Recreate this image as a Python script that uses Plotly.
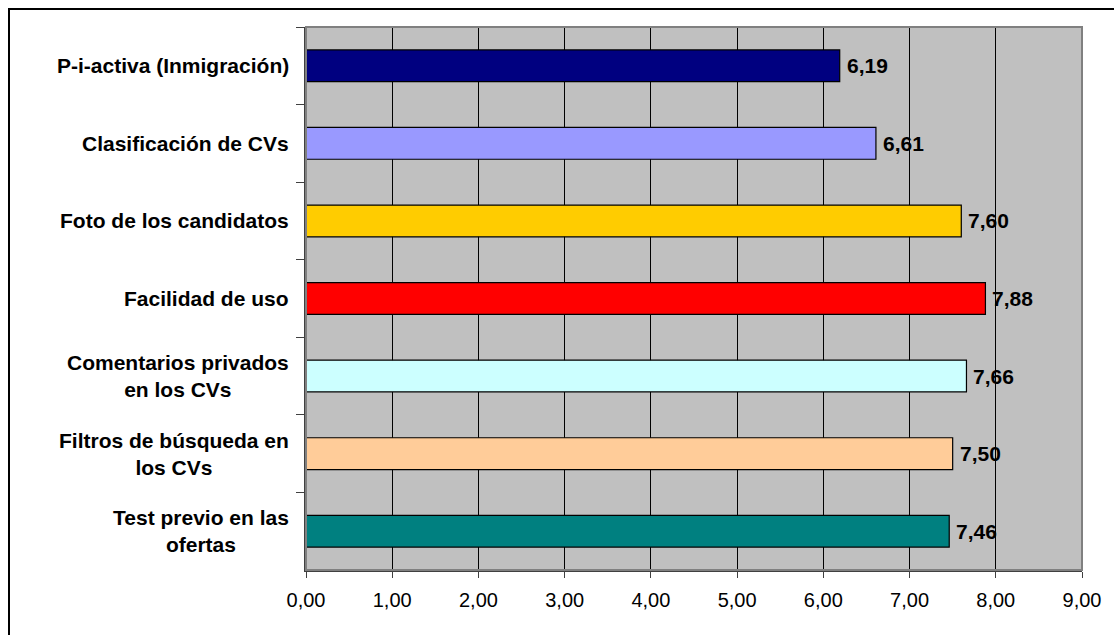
import plotly.graph_objects as go

# data, top to bottom as in the chart
categories = [
    "P-i-activa (Inmigración)",
    "Clasificación de CVs",
    "Foto de los candidatos",
    "Facilidad de uso",
    "Comentarios privados<br>en los CVs",
    "Filtros de búsqueda en<br>los CVs",
    "Test previo en las<br>ofertas",
]
values = [6.19, 6.61, 7.60, 7.88, 7.66, 7.50, 7.46]
colors = ["#000080", "#9999FF", "#FFCC00", "#FF0000", "#CCFFFF", "#FFCC99", "#008080"]
x_ticks = [0, 1, 2, 3, 4, 5, 6, 7, 8, 9]

FONT = "Liberation Sans, Arial, sans-serif"

fig = go.Figure()

fig.add_trace(go.Bar(
    x=values,
    y=categories,
    orientation='h',
    marker=dict(color=colors, line=dict(color='black', width=1.2)),
    hoverinfo='x+y',
))

# category labels (centered lines, right aligned block)
for cat in categories:
    fig.add_annotation(
        x=0, xref='paper', y=cat, yref='y',
        text=f"<b>{cat}</b>", showarrow=False,
        xanchor='right', align='center', xshift=-15,
        font=dict(family=FONT, size=21, color='black'),
    )

# value labels
for cat, v in zip(categories, values):
    fig.add_annotation(
        x=v, y=cat, text=f"<b>{v:.2f}</b>".replace('.', ','),
        showarrow=False, xanchor='left', xshift=5,
        font=dict(family=FONT, size=21, color='black'),
    )

# outer chart border (only top/left visible in the frame)
fig.add_shape(type='rect', xref='paper', yref='paper',
              x0=(9 - 306) / 776, x1=1.2, y0=-0.4, y1=(570 - 9) / 543,
              line=dict(color='black', width=2))
# plot area border
fig.add_shape(type='rect', xref='paper', yref='paper',
              x0=0, x1=1, y0=0, y1=1,
              line=dict(color='#808080', width=2))

fig.update_layout(
    width=1114, height=635,
    margin=dict(l=306, r=32, t=27, b=65),
    paper_bgcolor='white',
    plot_bgcolor='#C0C0C0',
    separators=',.',
    bargap=0.59,
    showlegend=False,
    font=dict(family=FONT, size=21, color='black'),
)

fig.update_xaxes(
    range=[0, 9], tickvals=x_ticks, tickformat='.2f',
    showgrid=True, gridcolor='black', gridwidth=1,
    zeroline=False, showline=True, linecolor='#404040', linewidth=1.5,
    ticks='outside', ticklen=6, tickcolor='#404040',
    ticklabelstandoff=5,
    tickfont=dict(family=FONT, size=20, color='black'),
)
fig.update_yaxes(
    autorange='reversed', showticklabels=False,
    tickson='boundaries', ticks='outside', ticklen=8, tickcolor='#404040',
    showgrid=False, showline=True, linecolor='#404040', linewidth=1.5,
)

fig.write_html("out.html", config={'displayModeBar': False},
               post_script="document.body.style.margin='0';")
